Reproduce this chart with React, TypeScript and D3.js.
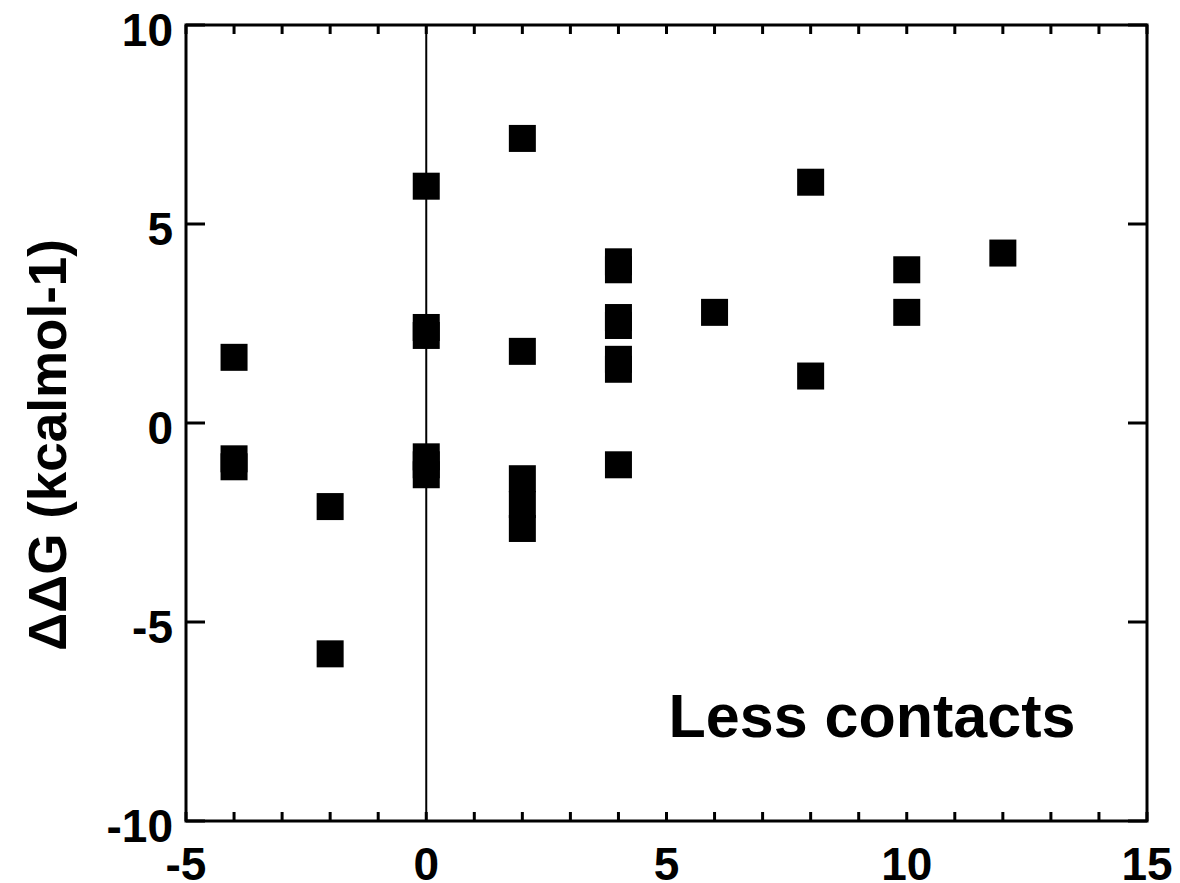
import React from "react";
import * as d3 from "d3";

const xValues = [-4, -4, -4, -2, -2, 0, 0, 0, 0, 0, 0, 2, 2, 2, 2, 2, 4, 4, 4, 4, 4, 4, 4, 6, 8, 8, 10, 10, 12];
const yValues = [1.65, -0.9, -1.1, -2.1, -5.8, 5.95, 2.2, 2.4, -0.85, -1.05, -1.3, 7.15, 1.8, -1.4, -2.05, -2.65, 4.05, 3.85, 2.65, 2.45, 1.6, 1.35, -1.05, 2.78, 6.05, 1.18, 3.85, 2.78, 4.27];
const xTicks = [-5, 0, 5, 10, 15];
const yTicks = [-10, -5, 0, 5, 10];
const xMinor = d3.range(-5, 16, 1);

export default function App() {
  const W = 1180, H = 883;
  const left = 186, right = 1147, top = 25, bottom = 821;
  const x = d3.scaleLinear().domain([-5, 15]).range([left, right]);
  const y = d3.scaleLinear().domain([-10, 10]).range([bottom, top]);
  const font = "'Liberation Sans', Arial, sans-serif";
  const ms = 27;
  return (
    <svg width={W} height={H} style={{ position: "absolute", left: 0, top: 0, background: "#fff" }}>
      <line x1={x(0)} x2={x(0)} y1={top} y2={bottom} stroke="#000" strokeWidth={2} />
      {xValues.map((xv, i) => (
        <rect key={i} x={x(xv) - ms / 2} y={y(yValues[i]) - ms / 2} width={ms} height={ms} fill="#000" />
      ))}
      {xMinor.map((t) => (
        <g key={"m" + t}>
          <line x1={x(t)} x2={x(t)} y1={bottom} y2={bottom - 9} stroke="#000" strokeWidth={3} />
          <line x1={x(t)} x2={x(t)} y1={top} y2={top + 9} stroke="#000" strokeWidth={3} />
        </g>
      ))}
      {yTicks.map((t) => (
        <g key={"y" + t}>
          <line x1={left} x2={left + 19} y1={y(t)} y2={y(t)} stroke="#000" strokeWidth={3} />
          <line x1={right} x2={right - 19} y1={y(t)} y2={y(t)} stroke="#000" strokeWidth={3} />
          <text x={173} y={y(t)} dy="0.45em" textAnchor="end" fontFamily={font} fontWeight="bold" fontSize={46}>{t}</text>
        </g>
      ))}
      {xTicks.map((t) => (
        <text key={"x" + t} x={x(t)} y={880} textAnchor="middle" fontFamily={font} fontWeight="bold" fontSize={46}>{t}</text>
      ))}
      <rect x={left} y={top} width={right - left} height={bottom - top} fill="none" stroke="#000" strokeWidth={3} />
      <text x={872} y={737} textAnchor="middle" fontFamily={font} fontWeight="bold" fontSize={61}>Less contacts</text>
      <text transform={`translate(66,445) rotate(-90)`} textAnchor="middle" fontFamily={font} fontWeight="bold" fontSize={53}>ΔΔG (kcalmol-1)</text>
    </svg>
  );
}
